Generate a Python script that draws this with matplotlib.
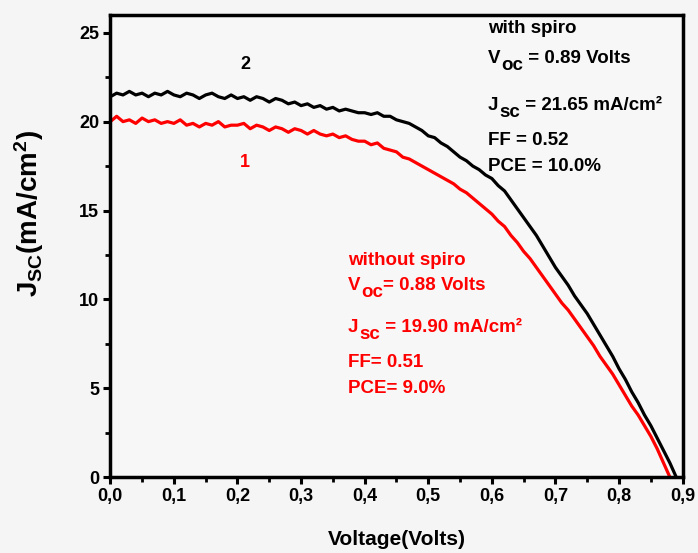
import numpy as np
import matplotlib
matplotlib.use("Agg")
import matplotlib.pyplot as plt
from matplotlib.ticker import MultipleLocator, FuncFormatter

plt.rcParams['font.family'] = ['Liberation Sans', 'DejaVu Sans']
plt.rcParams['font.weight'] = 'bold'
plt.rcParams['mathtext.fontset'] = 'custom'
plt.rcParams['mathtext.rm'] = 'Liberation Sans:bold'
plt.rcParams['mathtext.it'] = 'Liberation Sans:bold'
plt.rcParams['mathtext.bf'] = 'Liberation Sans:bold'

# J-V data (voltage in V, current density in mA/cm2)
v_spiro = np.arange(90) / 100
j_spiro = [21.4, 21.6, 21.5, 21.7, 21.5, 21.6, 21.4, 21.6, 21.5, 21.7,
           21.5, 21.4, 21.6, 21.5, 21.3, 21.5, 21.6, 21.4, 21.3, 21.5,
           21.3, 21.4, 21.2, 21.4, 21.3, 21.1, 21.3, 21.2, 21.0, 21.1,
           20.9, 21.0, 20.8, 20.9, 20.7, 20.8, 20.6, 20.7, 20.6, 20.5,
           20.5, 20.4, 20.5, 20.3, 20.3, 20.1, 20.0, 19.9, 19.7, 19.5,
           19.2, 19.1, 18.8, 18.6, 18.3, 18.0, 17.8, 17.5, 17.3, 17.0,
           16.8, 16.4, 16.1, 15.6, 15.1, 14.6, 14.1, 13.6, 13.0, 12.4,
           11.8, 11.3, 10.8, 10.2, 9.7, 9.2, 8.6, 8.0, 7.4, 6.8,
           6.1, 5.5, 4.8, 4.2, 3.5, 2.9, 2.2, 1.5, 0.8, 0.0]

v_nospiro = np.arange(89) / 100
j_nospiro = [20.0, 20.3, 20.0, 20.1, 19.9, 20.2, 20.0, 20.1, 19.9, 20.0,
             19.9, 20.1, 19.8, 19.9, 19.7, 19.9, 19.8, 20.0, 19.7, 19.8,
             19.8, 19.9, 19.6, 19.8, 19.7, 19.5, 19.7, 19.6, 19.4, 19.6,
             19.5, 19.3, 19.5, 19.3, 19.2, 19.3, 19.1, 19.2, 19.0, 18.9,
             18.9, 18.7, 18.8, 18.5, 18.4, 18.3, 18.0, 17.9, 17.7, 17.5,
             17.3, 17.1, 16.9, 16.7, 16.5, 16.2, 16.0, 15.7, 15.4, 15.1,
             14.8, 14.4, 14.1, 13.6, 13.2, 12.7, 12.3, 11.8, 11.3, 10.8,
             10.3, 9.8, 9.4, 8.9, 8.4, 7.9, 7.4, 6.8, 6.3, 5.8,
             5.2, 4.6, 4.0, 3.5, 2.9, 2.3, 1.6, 0.8, 0.0]

fig = plt.figure(figsize=(6.98, 5.53), dpi=100, facecolor='#f5f5f5')
ax = fig.add_axes([0.158, 0.137, 0.82, 0.836])
ax.set_facecolor('#f7f7f7')

ax.plot(v_spiro, j_spiro, color='black', lw=2.3)
ax.plot(v_nospiro, j_nospiro, color='red', lw=2.3)

ax.set_xlim(0, 0.9)
ax.set_ylim(0, 26)
ax.xaxis.set_major_locator(MultipleLocator(0.1))
ax.xaxis.set_minor_locator(MultipleLocator(0.05))
ax.yaxis.set_major_locator(MultipleLocator(5))
ax.yaxis.set_minor_locator(MultipleLocator(2.5))
ax.xaxis.set_major_formatter(FuncFormatter(lambda x, p: f"{x:.1f}".replace('.', ',')))
ax.tick_params(which='major', direction='out', length=5, width=2.2, labelsize=13, pad=3)
ax.tick_params(which='minor', direction='out', length=3.5, width=2.0)
for s in ax.spines.values():
    s.set_linewidth(2.5)

ax.set_xlabel('Voltage(Volts)', fontsize=15, fontweight='bold', labelpad=18)
ax.set_ylabel(r'J$_{\mathbf{SC}}$(mA/cm$^{\mathbf{2}}$)', fontsize=20, fontweight='bold')
ax.yaxis.set_label_coords(-0.112, 0.57)

ax.text(0.212, 22.97, '2', fontsize=13, color='black', ha='center', va='baseline')
ax.text(0.212, 17.45, '1', fontsize=13, color='red', ha='center', va='baseline')


def sub_line(x, y, main, sub, rest, color, size=13.5, drop=5):
    # main text, subscript at full size dropped below, then the rest on the baseline
    t1 = ax.text(x, y, main, fontsize=size, color=color, va='baseline')
    t2 = ax.annotate(sub, xy=(1, 0), xycoords=t1, xytext=(0.3, -drop),
                     textcoords='offset points', fontsize=size, color=color, va='bottom')
    ax.annotate(rest, xy=(1, 0), xycoords=t2, xytext=(0, drop),
                textcoords='offset points', fontsize=size, color=color, va='bottom')


fs = 13.5
ax.text(0.594, 25.0, 'with spiro', fontsize=fs, color='black', va='baseline')
sub_line(0.594, 23.31, 'V', 'oc', ' = 0.89 Volts', 'black', fs)
sub_line(0.594, 20.66, 'J', 'sc', ' = 21.65 mA/cm²', 'black', fs)
ax.text(0.594, 18.69, 'FF = 0.52', fontsize=fs, color='black', va='baseline')
ax.text(0.594, 17.23, 'PCE = 10.0%', fontsize=fs, color='black', va='baseline')

ax.text(0.374, 11.94, 'without spiro', fontsize=fs, color='red', va='baseline')
sub_line(0.374, 10.53, 'V', 'oc', '= 0.88 Volts', 'red', fs)
sub_line(0.374, 8.16, 'J', 'sc', ' = 19.90 mA/cm²', 'red', fs)
ax.text(0.374, 6.19, 'FF= 0.51', fontsize=fs, color='red', va='baseline')
ax.text(0.374, 4.73, 'PCE= 9.0%', fontsize=fs, color='red', va='baseline')

fig.savefig('out.png', dpi=100, facecolor=fig.get_facecolor())
